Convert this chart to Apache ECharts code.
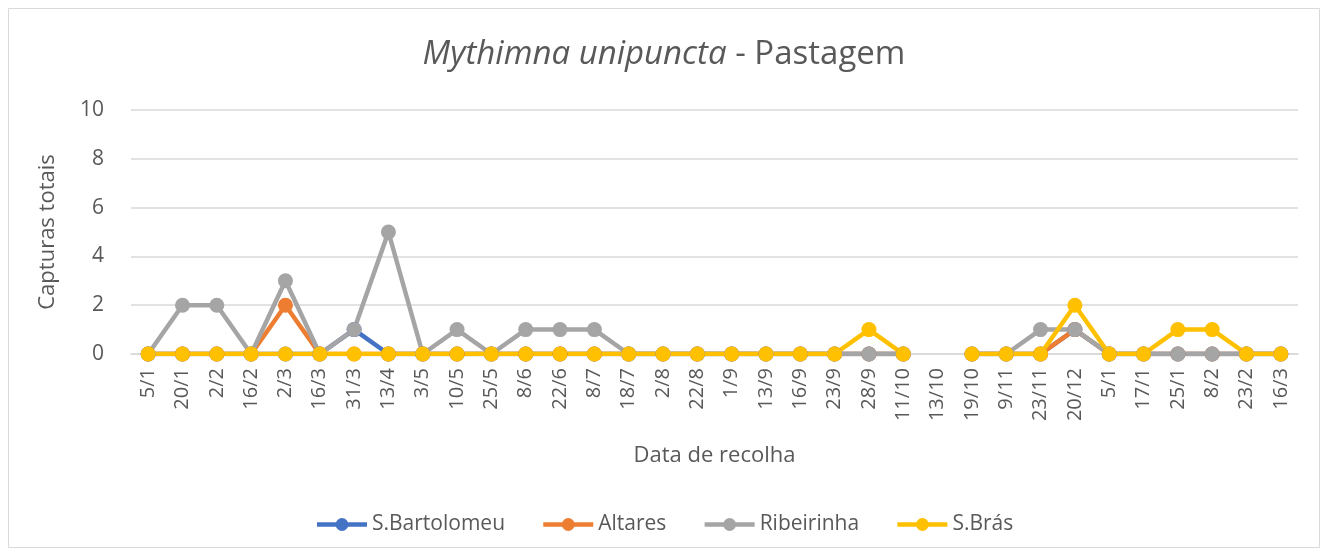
<!DOCTYPE html>
<html><head><meta charset="utf-8">
<script src="https://cdn.jsdelivr.net/npm/echarts@6/dist/echarts.min.js"></script>
<style>html,body{margin:0;padding:0;background:#fff}#c{width:1328px;height:555px}</style>
</head><body><div id="c"></div>
<script>
const categories = ['5/1','20/1','2/2','16/2','2/3','16/3','31/3','13/4','3/5','10/5','25/5','8/6','22/6','8/7','18/7','2/8','22/8','1/9','13/9','16/9','23/9','28/9','11/10','13/10','19/10','9/11','23/11','20/12','5/1','17/1','25/1','8/2','23/2','16/3'];
const sBartolomeu = [0,0,0,0,0,0,1,0,0,0,0,0,0,0,0,0,0,0,0,0,0,0,0,null,0,0,0,1,0,0,0,0,0,0];
const altares     = [0,0,0,0,2,0,0,0,0,0,0,0,0,0,0,0,0,0,0,0,0,0,0,null,0,0,0,1,0,0,0,0,0,0];
const ribeirinha  = [0,2,2,0,3,0,1,5,0,1,0,1,1,1,0,0,0,0,0,0,0,0,0,null,0,0,1,1,0,0,0,0,0,0];
const sBras       = [0,0,0,0,0,0,0,0,0,0,0,0,0,0,0,0,0,0,0,0,0,1,0,null,0,0,0,2,0,0,1,1,0,0];
const yTicks = [0,2,4,6,8,10];

const FONT = '"Open Sans", "Noto Sans", sans-serif';
const mk = (name, data, color) => ({
  name, type: 'line', data, connectNulls: false,
  symbol: 'circle', symbolSize: 15, showSymbol: true,
  lineStyle: {width: 4.5, color}, itemStyle: {color},
  emphasis: {disabled: true}, animation: false
});
const chart = echarts.init(document.getElementById('c'));
chart.setOption({
  animation: false,
  title: {
    text: '{i|Mythimna unipuncta}{n| - Pastagem}',
    left: 'center', top: 33,
    textStyle: {fontWeight: 'normal', rich: {
      i: {fontFamily: FONT, fontStyle: 'italic', fontWeight: 'normal', fontSize: 33, color: '#595959'},
      n: {fontFamily: FONT, fontWeight: 'normal', fontSize: 33, color: '#595959'}
    }}
  },
  graphic: [{type: 'rect', shape: {x: 8.5, y: 8.5, width: 1311, height: 539}, style: {fill: 'none', stroke: '#d9d9d9', lineWidth: 1}, silent: true}],
  legend: {
    bottom: 15, left: 'center', itemWidth: 50, itemHeight: 16, itemGap: 36,
    lineStyle: {width: 4.5},
    textStyle: {fontFamily: FONT, fontSize: 21, color: '#595959'},
    data: ['S.Bartolomeu','Altares','Ribeirinha','S.Brás']
  },
  grid: {left: 131, right: 30, top: 110, bottom: 201, containLabel: false},
  xAxis: {
    type: 'category', data: categories, boundaryGap: true,
    name: 'Data de recolha', nameLocation: 'middle', nameGap: 91,
    nameTextStyle: {fontFamily: FONT, fontSize: 22, color: '#595959'},
    axisLine: {lineStyle: {color: '#d9d9d9', width: 1.5}},
    axisTick: {show: false},
    axisLabel: {rotate: 90, interval: 0, margin: 14, fontFamily: FONT, fontSize: 20, color: '#595959'}
  },
  yAxis: {
    type: 'value', min: 0, max: 10, interval: 2,
    name: 'Capturas totais', nameLocation: 'middle', nameGap: 72,
    nameTextStyle: {fontFamily: FONT, fontSize: 22, color: '#595959'},
    axisLine: {show: false}, axisTick: {show: false},
    axisLabel: {margin: 27, fontFamily: FONT, fontSize: 21, color: '#595959',
      formatter: v => yTicks.includes(v) ? String(v) : ''},
    splitLine: {lineStyle: {color: '#d9d9d9', width: 1.5}}
  },
  series: [
    mk('S.Bartolomeu', sBartolomeu, '#4472c4'),
    mk('Altares', altares, '#ed7d31'),
    mk('Ribeirinha', ribeirinha, '#a5a5a5'),
    mk('S.Brás', sBras, '#ffc000')
  ]
});
</script></body></html>
